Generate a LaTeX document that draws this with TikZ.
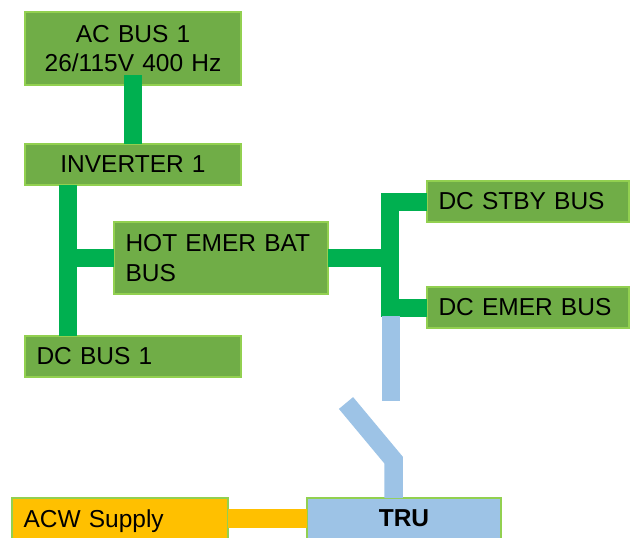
\documentclass[tikz,border=0pt]{standalone}
\usepackage{fontspec}
\setmainfont{Liberation Sans}
\usetikzlibrary{positioning}
\definecolor{boxgreen}{HTML}{70AD47}
\definecolor{edgegreen}{HTML}{92D050}
\definecolor{wiregreen}{HTML}{00B050}
\definecolor{trublue}{HTML}{9DC3E6}
\definecolor{acworange}{HTML}{FFC000}

\begin{document}
\begin{tikzpicture}[
                    x = 1pt, y = -1pt,
                    font = \fontsize{24.5}{29.5}\selectfont,
                    bus/.style = {draw = edgegreen, line width = 1.2pt, fill = boxgreen, outer sep = 0pt,
                                  inner xsep = 11.5pt, inner ysep = 0pt, minimum height = 41pt, align = left},
                    wire/.style = {draw = wiregreen, line width = 18pt, line join = miter},
                    feed/.style = {draw = trublue, line width = 18.5pt, line join = miter},
                    supply/.style = {draw = acworange, line width = 19pt}]
                \useasboundingbox (0,0) rectangle (630,538);
                \node[bus, align = center, text width = 193pt, minimum height = 73pt] (acbus) at (133,48.5)  {AC BUS 1\\26/115V 400 Hz};
                \node[bus, align = center, text width = 193pt]                        (inv)   at (133,164.5) {INVERTER 1};
                \node[bus, text width = 193pt]                                        (dcbus) at (133,356.5) {DC BUS 1};
                \node[bus, text width = 191pt, minimum height = 72pt]                 (hot)   at (221,258)   {HOT EMER BAT\\BUS};
                \node[bus, text width = 179pt]                                        (stby)  at (528,201.5) {DC STBY BUS};
                \node[bus, text width = 179pt]                                        (emer)  at (528,307.5) {DC EMER BUS};
                \node[bus, fill = acworange, text width = 193pt, text depth = 0pt]    (acw)   at (120,518.5) {ACW Supply};
                \node[bus, fill = trublue, align = center, text width = 171pt]        (tru)   at (404,518.5) {\textbf{TRU}};
                \coordinate (trunk)  at (68,258);
                \coordinate (fork)   at (390,258);
                \coordinate (swbase) at (391,316);
                \coordinate (swtop)  at (391,401);
                \coordinate (blade)  at (346,403);
                \coordinate (hinge)  at (393.5,460);
                \draw[wire]   ([yshift = 10pt]acbus.south) -- (inv.north);
                \draw[wire]   (inv.south -| trunk) -- (dcbus.north -| trunk);
                \draw[wire]   (hot.west) -- (trunk);
                \draw[wire]   (hot.east) -- (fork);
                \draw[wire]   (stby.west) -| (fork) |- (emer.west);
                \draw[feed]   (swbase) -- (swtop);
                \draw[feed]   (blade) -- (hinge) -- ([xshift = -10.5pt]tru.north);
                \draw[supply] (acw.east) -- (tru.west);
            \end{tikzpicture}
\end{document}
